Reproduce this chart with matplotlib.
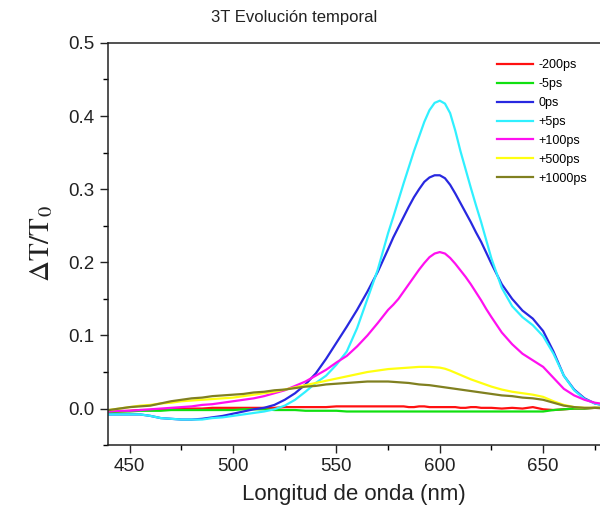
import matplotlib
matplotlib.use("Agg")
import matplotlib.pyplot as plt
from matplotlib.ticker import MultipleLocator, FormatStrFormatter

wavelength = [440, 445, 450, 455, 460, 465, 470, 475, 480, 485, 490, 495, 500, 505, 510, 515,
              520, 525, 530, 535, 540, 545, 550, 555, 560, 565, 570, 575,
              577.5, 580, 582.5, 585, 587.5, 590, 592.5, 595, 597.5, 600, 602.5, 605, 607.5,
              610, 612.5, 615, 617.5, 620, 622.5,
              625, 630, 635, 640, 645, 650, 655, 660, 665, 670, 675, 680]

s_m200 = [-0.004, -0.004, -0.003, -0.002, -0.002, -0.001, -0.001, 0.000, 0.000, 0.000, 0.001, 0.001,
          0.001, 0.001, 0.001, 0.001, 0.001, 0.002, 0.002, 0.002, 0.002, 0.002, 0.003, 0.003, 0.003,
          0.003, 0.003, 0.003,
          0.003, 0.003, 0.003, 0.002, 0.002, 0.003, 0.003, 0.002, 0.002, 0.002, 0.002, 0.002, 0.002,
          0.001, 0.001, 0.002, 0.002, 0.001, 0.001,
          0.001, 0.000, 0.001, 0.000, 0.002, -0.001, -0.002, -0.001, 0.000, 0.000, 0.001, 0.001]

s_m5 = [-0.005, -0.004, -0.004, -0.003, -0.003, -0.003, -0.002, -0.002, -0.002, -0.002, -0.002, -0.002,
        -0.002, -0.001, -0.001, -0.001, -0.002, -0.002, -0.002, -0.003, -0.003, -0.003, -0.003, -0.004,
        -0.004, -0.004, -0.004, -0.004,
        -0.004, -0.004, -0.004, -0.004, -0.004, -0.004, -0.004, -0.004, -0.004, -0.004, -0.004, -0.004, -0.004,
        -0.004, -0.004, -0.004, -0.004, -0.004, -0.004,
        -0.004, -0.004, -0.004, -0.004, -0.004, -0.004, -0.002, -0.001, 0.000, 0.000, 0.001, 0.001]

s_0 = [-0.008, -0.008, -0.008, -0.008, -0.010, -0.013, -0.014, -0.015, -0.015, -0.014, -0.012, -0.010,
       -0.007, -0.004, -0.001, 0.001, 0.005, 0.012, 0.021, 0.033, 0.048, 0.068, 0.090, 0.112, 0.135,
       0.160, 0.187, 0.218,
       0.234, 0.248, 0.262, 0.276, 0.289, 0.300, 0.310, 0.316, 0.319, 0.319, 0.315, 0.306, 0.294,
       0.281, 0.268, 0.255, 0.241, 0.228, 0.213,
       0.198, 0.170, 0.150, 0.134, 0.123, 0.106, 0.078, 0.045, 0.026, 0.014, 0.007, 0.004]

s_p5 = [-0.008, -0.008, -0.008, -0.008, -0.010, -0.013, -0.014, -0.015, -0.015, -0.015, -0.013, -0.012,
        -0.010, -0.008, -0.006, -0.004, -0.001, 0.004, 0.012, 0.023, 0.035, 0.045, 0.060, 0.078, 0.110,
        0.150, 0.190, 0.240,
        0.262, 0.285, 0.308, 0.330, 0.352, 0.372, 0.392, 0.408, 0.418, 0.421, 0.417, 0.404, 0.380,
        0.352, 0.327, 0.302, 0.278, 0.255, 0.230,
        0.205, 0.165, 0.140, 0.125, 0.114, 0.099, 0.075, 0.045, 0.025, 0.013, 0.007, 0.004]

s_p100 = [-0.004, -0.003, -0.003, -0.002, -0.001, 0.000, 0.001, 0.002, 0.003, 0.005, 0.006, 0.008,
          0.010, 0.012, 0.014, 0.017, 0.021, 0.025, 0.031, 0.037, 0.045, 0.053, 0.063, 0.072, 0.085,
          0.100, 0.117, 0.135,
          0.142, 0.150, 0.160, 0.170, 0.180, 0.190, 0.199, 0.207, 0.212, 0.214, 0.212, 0.206, 0.198,
          0.189, 0.180, 0.170, 0.159, 0.148, 0.136,
          0.125, 0.104, 0.088, 0.075, 0.066, 0.057, 0.042, 0.027, 0.018, 0.012, 0.008, 0.006]

s_p500 = [-0.002, 0.000, 0.002, 0.004, 0.005, 0.007, 0.008, 0.010, 0.011, 0.012, 0.013, 0.014,
          0.015, 0.017, 0.019, 0.021, 0.023, 0.026, 0.029, 0.032, 0.035, 0.038, 0.041, 0.044, 0.047,
          0.050, 0.052, 0.054,
          0.0545, 0.055, 0.0555, 0.056, 0.0565, 0.057, 0.057, 0.057, 0.0565, 0.056, 0.0545, 0.052, 0.049,
          0.046, 0.043, 0.040, 0.0375, 0.035, 0.0325,
          0.030, 0.026, 0.023, 0.021, 0.019, 0.016, 0.010, 0.005, 0.002, 0.001, 0.001, 0.001]

s_p1000 = [-0.002, 0.000, 0.002, 0.003, 0.004, 0.007, 0.010, 0.012, 0.014, 0.015, 0.017, 0.018,
           0.019, 0.020, 0.022, 0.023, 0.025, 0.026, 0.028, 0.030, 0.031, 0.033, 0.034, 0.035, 0.036,
           0.037, 0.037, 0.037,
           0.0365, 0.036, 0.0355, 0.035, 0.034, 0.033, 0.0325, 0.032, 0.031, 0.030, 0.029, 0.028, 0.027,
           0.026, 0.025, 0.024, 0.023, 0.022, 0.021,
           0.020, 0.018, 0.017, 0.015, 0.014, 0.012, 0.008, 0.004, 0.002, 0.001, 0.001, 0.000]

labels = ["-200ps", "-5ps", "0ps", "+5ps", "+100ps", "+500ps", "+1000ps"]
series = [s_m200, s_m5, s_0, s_p5, s_p100, s_p500, s_p1000]
colors = ["#ff1010", "#10e010", "#2828e0", "#30f0ff", "#ff10f0", "#ffff10", "#808020"]

plt.rcParams['font.family'] = ['Liberation Sans', 'DejaVu Sans']
plt.rcParams['mathtext.fontset'] = 'stix'

fig = plt.figure(figsize=(6.0, 5.17), dpi=100)
ax = fig.add_axes([0.18, 0.139, 0.82, 0.778])

for lab, ys, c in zip(labels, series, colors):
    ax.plot(wavelength, ys, color=c, lw=1.6, label=lab, solid_joinstyle='round')

ax.set_xlim(439.5, 677.5)
ax.set_ylim(-0.05, 0.5)
ax.xaxis.set_major_locator(MultipleLocator(50))
ax.xaxis.set_minor_locator(MultipleLocator(25))
ax.yaxis.set_major_locator(MultipleLocator(0.1))
ax.yaxis.set_minor_locator(MultipleLocator(0.05))
ax.tick_params(axis='both', which='major', direction='out', length=6, width=1, labelsize=13.5, colors='#222222')
ax.tick_params(axis='both', which='minor', direction='out', length=3.5, width=1)
ax.yaxis.set_major_formatter(FormatStrFormatter('%.1f'))
ax.spines['right'].set_visible(False)
for s in ['left', 'bottom', 'top']:
    ax.spines[s].set_linewidth(1.1)
    ax.spines[s].set_color('#222222')

ax.set_xlabel("Longitud de onda (nm)", fontsize=16, color='#222222', labelpad=6)
ax.set_ylabel(r"$\Delta\mathrm{T/T}_0$", fontsize=21, color='#222222', labelpad=10)
fig.text(0.49, 0.967, "3T Evolución temporal", ha='center', va='center', fontsize=12, color='#222222')

ax.legend(loc='upper left', bbox_to_anchor=(0.775, 0.978), frameon=False, fontsize=9,
          handlelength=2.9, handletextpad=0.4, labelspacing=0.55, borderaxespad=0.2)

fig.savefig("out.png", dpi=100)
